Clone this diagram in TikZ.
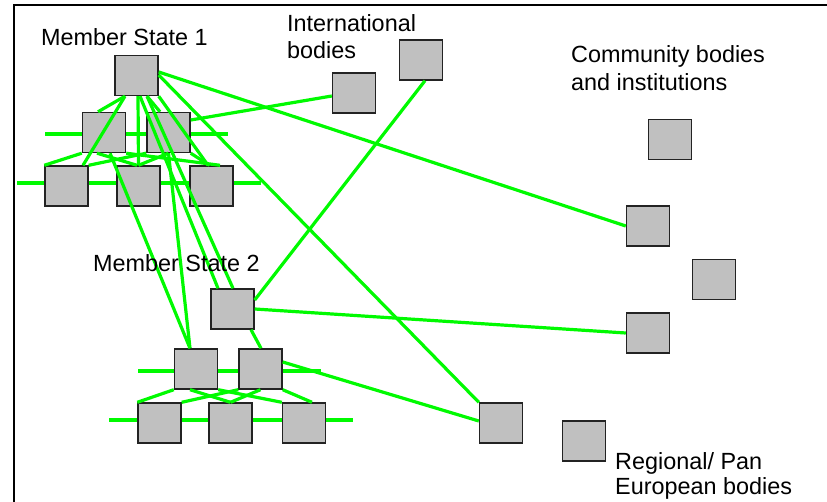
\documentclass[tikz,border=0pt]{standalone}
\usepackage{fontspec}
\setmainfont{Liberation Sans}
\definecolor{linkgreen}{RGB}{0,250,0}
\definecolor{boxgray}{RGB}{192,192,192}
\definecolor{boxedge}{RGB}{35,35,35}
\begin{document}
\begin{tikzpicture}[x=1pt,y=-1pt,
  box/.style={draw=boxedge, line width=1.4pt, fill=boxgray,
    minimum width=43pt, minimum height=40pt, inner sep=0pt},
  link/.style={draw=linkgreen, line width=3.2pt},
  frameline/.style={draw=black, line width=2.5pt},
  lbl/.style={anchor=base west, inner sep=0pt, font=\fontsize{23.4}{27}\selectfont}]
\useasboundingbox (0,0) rectangle (827,502);

% outer frame (top and left edges)
\coordinate (frBL) at (14,502);
\coordinate (frTL) at (14,5);
\coordinate (frTR) at (827,5);
\draw[frameline] (frBL) -- (frTL) -- (frTR);

% level lines behind the boxes
\coordinate (m1r2w) at (45,134);  \coordinate (m1r2e) at (228,134);
\coordinate (m1r3w) at (17,183);  \coordinate (m1r3e) at (261,183);
\coordinate (m2r2w) at (138,371); \coordinate (m2r2e) at (321,371);
\coordinate (m2r3w) at (109,420); \coordinate (m2r3e) at (353,420);
\draw[link] (m1r2w) -- (m1r2e);
\draw[link] (m1r3w) -- (m1r3e);
\draw[link] (m2r2w) -- (m2r2e);
\draw[link] (m2r3w) -- (m2r3e);

% Member State 1
\node[box] (T1) at (136.5,75.5) {};
\node[box] (A)  at (104,132.5) {};
\node[box] (B)  at (168.5,132.5) {};
\node[box] (C)  at (66.5,186) {};
\node[box] (D)  at (138.5,186) {};
\node[box] (E)  at (211.5,186) {};
% Member State 2
\node[box] (T2) at (232.5,309) {};
\node[box] (F)  at (196,369) {};
\node[box] (G)  at (260.5,369) {};
\node[box] (H)  at (159.5,423) {};
\node[box] (I)  at (230.5,423) {};
\node[box] (J)  at (304,423) {};
% International bodies
\node[box] (I1) at (354,93) {};
\node[box] (I2) at (421,60) {};
% Community bodies and institutions
\node[box] (C1) at (670,139.5) {};
\node[box] (C2) at (648,226) {};
\node[box] (C3) at (648,333) {};
\node[box] (C4) at (714,279.5) {};
% Regional / Pan European bodies
\node[box] (R1) at (501,423) {};
\node[box] (R2) at (584,441) {};

% links inside Member State 1
\draw[link] ([xshift=-11.5pt]T1.south) -- ([xshift=-6pt]A.north);
\draw[link] ([xshift=-11.5pt]T1.south) -- ([xshift=16.5pt]C.north);
\draw[link] ([xshift=1.5pt]T1.south) -- (D.north);
\draw[link] ([xshift=10.5pt]T1.south) -- ([xshift=-8.5pt]B.north);
\draw[link] (T1.south east) -- ([xshift=-3.5pt]E.north);
\draw[link] (A.south west) -- (C.north west);
\draw[link] ([xshift=-7pt]A.south) -- ([xshift=-1.5pt]D.north);
\draw[link] (A.south east) -- ([xshift=8.5pt]E.north);
\draw[link] (B.south west) -- (C.north east);
\draw[link] (B.south) -- (D.north);
\draw[link] (B.south east) -- ([xshift=-2pt]E.north);

% Member State 1 towards Member State 2
\draw[link] ([xshift=3.5pt]T1.south) -- ([xshift=-14.5pt]T2.north);
\draw[link] ([xshift=10.5pt]T1.south) -- ([xshift=0.5pt]T2.north);
\draw[link] (B.south) -- ([xshift=-6pt]F.north);
\draw[link] ([xshift=6pt]A.south) -- ([xshift=-6pt]F.north);

% Member State 1 towards other bodies
\draw[link] ([yshift=3.5pt]T1.east) -- (C2.west);
\draw[link] ([yshift=0.5pt]T1.east) -- (R1.north west);
\draw[link] ([yshift=12.5pt]B.east) -- ([yshift=-3pt]I1.west);

% links inside Member State 2
\draw[link] ([xshift=18.5pt]T2.south) -- ([xshift=0.5pt]G.north);
\draw[link] (F.south west) -- (H.north west);
\draw[link] ([xshift=-6pt]F.south) -- (I.north);
\draw[link] (F.south east) -- (J.north west);
\draw[link] (G.south west) -- (H.north east);
\draw[link] (G.south) -- (I.north);
\draw[link] (G.south east) -- ([xshift=8pt]J.north);

% Member State 2 towards other bodies
\draw[link] ([yshift=9pt]T2.east) -- ([xshift=4pt]I2.south);
\draw[link] (T2.east) -- (C3.west);
\draw[link] ([yshift=7pt]G.east) -- ([yshift=2pt]R1.west);

% labels
\node[lbl] (lms1)  at (41,46)   {Member State 1};
\node[lbl] (lint1) at (287,32)  {International};
\node[lbl] (lint2) at (287,59)  {bodies};
\node[lbl] (lcom1) at (571,63)  {Community bodies};
\node[lbl] (lcom2) at (571,91)  {and institutions};
\node[lbl] (lms2)  at (93,272)  {Member State 2};
\node[lbl] (lreg1) at (615,469) {Regional/ Pan};
\node[lbl] (lreg2) at (615,494) {European bodies};
\end{tikzpicture}
\end{document}
